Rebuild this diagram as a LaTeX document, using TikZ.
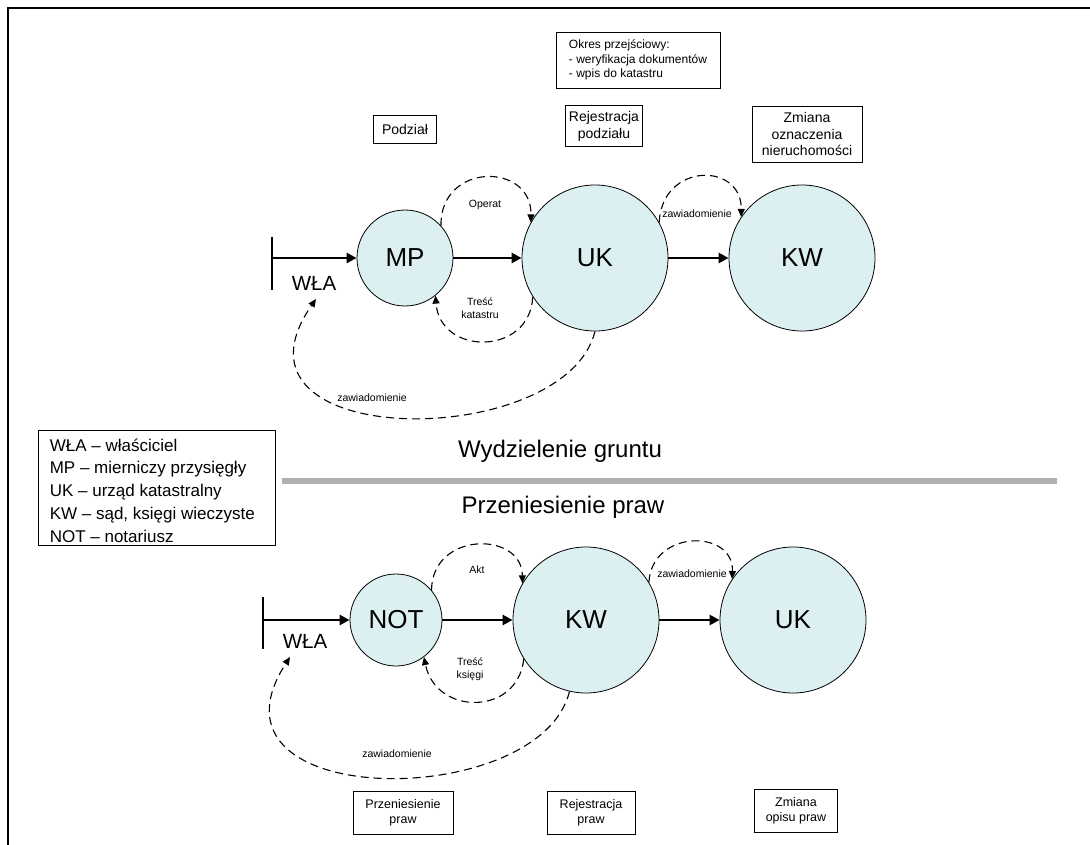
\documentclass[tikz,border=0pt]{standalone}
\usepackage{fontspec}
\setmainfont{Liberation Sans}
\usetikzlibrary{arrows.meta}
\definecolor{cfill}{RGB}{220,240,242}
\definecolor{barcol}{RGB}{175,175,175}
\begin{document}
\begin{tikzpicture}[x=1pt,y=-1pt,
 ent/.style={circle,draw=black,line width=0.8pt,fill=cfill,inner sep=0pt,font=\fontsize{26}{28}\selectfont},
 flow/.style={line width=2.8pt,-{Triangle[length=10pt,width=10pt]}},
 msg/.style={line width=1.1pt,dash pattern=on 8pt off 5pt,-{Triangle[length=8pt,width=7pt]}},
 lbl/.style={font=\fontsize{10.5}{12.5}\selectfont,align=center,inner sep=1pt},
 wlbl/.style={lbl,fill=white},
 box/.style={draw,line width=0.8pt,align=center,inner sep=0pt},
 tbox/.style={box,font=\fontsize{14}{17}\selectfont},
 bbox/.style={box,font=\fontsize{12.5}{15}\selectfont},
 who/.style={font=\fontsize{20.5}{22}\selectfont},
 title/.style={font=\fontsize{24}{26}\selectfont},
 bar/.style={line width=2pt}]
\useasboundingbox (0,0) rectangle (1090,845);
% frame
\draw[line width=1.4pt] (8,845) -- (8,8) -- (1090,8);

% ---------- top section ----------
\node[ent,minimum size=96pt] (MP) at (405,258) {MP};
\node[ent,minimum size=146pt] (UK) at (595,258) {UK};
\node[ent,minimum size=146pt] (KW) at (802,258) {KW};

\coordinate (b1t) at (272,237);
\coordinate (b1b) at (272,290);
\coordinate (w1) at (272,258);
\draw[bar] (b1t) -- (b1b);
\node[who] (WLA1) at (314,283) {WŁA};
\coordinate (w1tip) at (316,299);

\draw[flow] (w1) -- (MP.west);
\draw[flow] (MP.east) -- (UK.west);
\draw[flow] (UK.east) -- (KW.west);

\draw[msg] (MP.42) .. controls (440,162) and (532,162) .. (UK.151);
\node[lbl] (op) at (485,205) {Operat};
\draw[msg] (UK.212) .. controls (530,356) and (440,356) .. (MP.309);
\node[lbl] (tk) at (480,308) {Treść\\katastru};
\draw[msg] (UK.29) .. controls (662,162) and (742,162) .. (KW.146);
\node[wlbl] (z1) at (697,214) {zawiadomienie};
\draw[msg] (UK.270) .. controls (565,452) and (210,452) .. (w1tip);
\node[lbl] (z2) at (372,398) {zawiadomienie};

\node[tbox,minimum width=63pt,minimum height=28pt] (podz) at (405,129) {Podział};
\node[box,align=left,minimum width=164pt,minimum height=56pt,font=\fontsize{12}{14.5}\selectfont] (okres) at (638,60)
  {Okres przejściowy:\\- weryfikacja dokumentów\\- wpis do katastru};
\node[tbox,minimum width=77pt,minimum height=41pt] (rejp) at (604,126) {Rejestracja\\podziału};
\node[tbox,minimum width=110pt,minimum height=56pt,font=\fontsize{14}{16.5}\selectfont] (zmo) at (807,134) {Zmiana\\oznaczenia\\nieruchomości};

% ---------- legend and titles ----------
\node[draw,line width=0.8pt,minimum width=237pt,minimum height=115pt] (leg) at (156.5,487.5) {};
\node[align=left,anchor=west,inner sep=0pt,font=\fontsize{17}{22.8}\selectfont] (legtxt) at ([xshift=12pt,yshift=-3pt]leg.west)
  {WŁA – właściciel\\MP – mierniczy przysięgły\\UK – urząd katastralny\\KW – sąd, księgi wieczyste\\NOT – notariusz};
\node[title] (t1) at (560,451) {Wydzielenie gruntu};
\draw[line width=6pt,barcol] (282,481) -- (1057,481);
\node[title] (t2) at (563,507) {Przeniesienie praw};

% ---------- bottom section ----------
\node[ent,minimum size=92pt] (NOT) at (396,620) {NOT};
\node[ent,minimum size=146pt] (KW2) at (586,620) {KW};
\node[ent,minimum size=146pt] (UK2) at (793,620) {UK};

\coordinate (b2t) at (263,597);
\coordinate (b2b) at (263,649);
\coordinate (w2) at (263,620);
\draw[bar] (b2t) -- (b2b);
\node[who] (WLA2) at (305,641) {WŁA};
\coordinate (w2tip) at (290,657);

\draw[flow] (w2) -- (NOT.west);
\draw[flow] (NOT.east) -- (KW2.west);
\draw[flow] (KW2.east) -- (UK2.west);

\draw[msg] (NOT.40) .. controls (432,531) and (522,531) .. (KW2.150);
\node[lbl] (akt) at (477,570) {Akt};
\draw[msg] (KW2.212) .. controls (518,716) and (436,716) .. (NOT.307);
\node[lbl] (tks) at (470,669) {Treść\\księgi};
\draw[msg] (KW2.31) .. controls (652,529) and (734,529) .. (UK2.146);
\node[wlbl] (z3) at (692,574) {zawiadomienie};
\draw[msg] (KW2.257) .. controls (540,812) and (190,812) .. (w2tip);
\node[lbl] (z4) at (397,754) {zawiadomienie};

\node[bbox,minimum width=100pt,minimum height=43pt] (pp) at (403,813) {Przeniesienie\\praw};
\node[bbox,minimum width=88pt,minimum height=43pt] (rpr) at (591,813) {Rejestracja\\praw};
\node[bbox,minimum width=83pt,minimum height=43pt] (zop) at (796,811) {Zmiana\\opisu praw};
\end{tikzpicture}
\end{document}
